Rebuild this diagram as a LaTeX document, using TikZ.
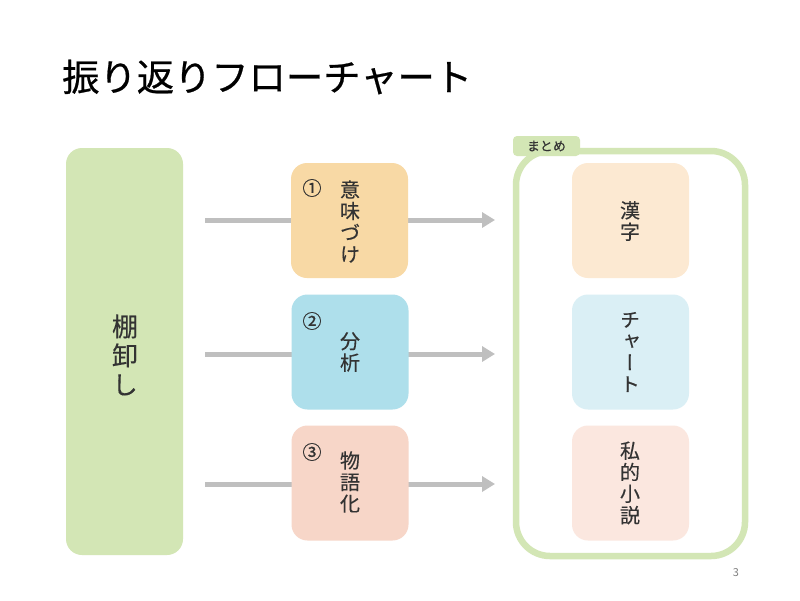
\documentclass[tikz,border=0pt]{standalone}
\usepackage{fontspec}
\usetikzlibrary{arrows.meta}
\newfontfamily\jp{Noto Sans CJK JP}
\newfontfamily\jpb[FakeBold=0.6]{Noto Sans CJK JP}
\newfontfamily\jpn[FakeBold=0.8]{Noto Sans CJK JP}
\newfontfamily\jpv[RawFeature=+vert,FakeBold=0.25]{Noto Sans CJK JP}
\definecolor{lgreen}{HTML}{D3E6B5}
\definecolor{morange}{HTML}{F8D9A5}
\definecolor{mblue}{HTML}{AEDFEB}
\definecolor{mpink}{HTML}{F7D6C8}
\definecolor{rorange}{HTML}{FCE9D2}
\definecolor{rblue}{HTML}{DAEFF5}
\definecolor{rpink}{HTML}{FBE7DF}
\definecolor{arrowgray}{HTML}{BFBFBF}
\definecolor{txt}{HTML}{333333}
\tikzset{
  x=1pt,y=-1pt,
  card/.style={rounded corners=16pt, minimum width=117pt, minimum height=115pt, inner sep=0pt, draw=none},
  vtext/.style={align=center, text=txt, font=\jpv\fontsize{20}{21.5}\selectfont, inner sep=0pt},
  flow/.style={draw=arrowgray, line width=5pt, -{Triangle[length=13pt,width=15pt]}},
  num/.style={text=txt, font=\jpn\fontsize{19}{19}\selectfont, inner sep=0pt},
}
\begin{document}
\begin{tikzpicture}
\useasboundingbox[fill=white] (0,0) rectangle (800,600);
% title
\node[anchor=west, inner sep=0pt, font=\jpb\fontsize{37.3}{37.3}\selectfont] (title) at (62,77) {振り返りフローチャート};
% arrows (behind)
\coordinate (a1s) at (205,220); \coordinate (a1e) at (495,220);
\coordinate (a2s) at (205,354); \coordinate (a2e) at (495,354);
\coordinate (a3s) at (205,484); \coordinate (a3e) at (495,484);
\draw[flow] (a1s) -- (a1e);
\draw[flow] (a2s) -- (a2e);
\draw[flow] (a3s) -- (a3e);
% left box
\node[fill=lgreen, rounded corners=16pt, minimum width=117pt, minimum height=407pt, inner sep=0pt] (left) at (124.5,351.5) {};
\node[align=center, text=txt, font=\jpv\fontsize{26}{29}\selectfont, inner sep=0pt] (lefttxt) at (125,355) {棚\\卸\\し};
% middle cards
\node[card, fill=morange] (m1) at (349.5,220.5) {};
\node[card, fill=mblue] (m2) at (350,352) {};
\node[card, fill=mpink] (m3) at (350,483) {};
\node[vtext] (m1t) at (350,221.5) {意\\味\\づ\\け};
\node[vtext] (m2t) at (350,352) {分\\析};
\node[vtext] (m3t) at (350,482) {物\\語\\化};
\node[num] (n1) at (312,188) {①};
\node[num] (n2) at (312,321) {②};
\node[num] (n3) at (312,452) {③};
% frame
\draw[lgreen, line width=6.5pt, rounded corners=34pt] (516,151) rectangle (745,556);
\node[fill=lgreen, rounded corners=4pt, minimum width=67pt, minimum height=20pt, inner sep=0pt, text=txt, font=\jpv\fontsize{13}{13}\selectfont] (tab) at (546.5,146) {まとめ};
% right cards
\node[card, fill=rorange] (r1) at (630.5,220.5) {};
\node[card, fill=rblue] (r2) at (630.5,352) {};
\node[card, fill=rpink] (r3) at (630.5,483) {};
\node[vtext] (r1t) at (630,221) {漢\\字};
\node[vtext] (r2t) at (630,352) {チ\\ャ\\ー\\ト};
\node[vtext] (r3t) at (630,483) {私\\的\\小\\説};
% page number
\node[text=gray, font=\jp\fontsize{11}{11}\selectfont, inner sep=0pt] (pg) at (736,573) {3};
\end{tikzpicture}
\end{document}
